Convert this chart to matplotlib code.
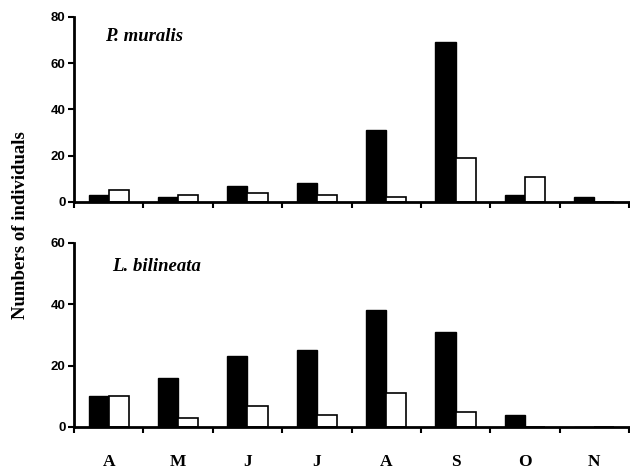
import matplotlib
matplotlib.use("Agg")
import matplotlib.pyplot as plt
import numpy as np

months = ['A', 'M', 'J', 'J', 'A', 'S', 'O', 'N']

# P. muralis
muralis_black = [3, 2, 7, 8, 31, 69, 3, 2]
muralis_white = [5, 3, 4, 3, 2, 19, 11, 0]

# L. bilineata
bilineata_black = [10, 16, 23, 25, 38, 31, 4, 0]
bilineata_white = [10, 3, 7, 4, 11, 5, 0, 0]

serif = 'Liberation Serif'
sans = 'Liberation Sans'

fig = plt.figure(figsize=(6.3, 4.69), dpi=100)
ax1 = fig.add_axes([0.1175, 0.5693, 0.881, 0.3945])
ax2 = fig.add_axes([0.1175, 0.0896, 0.881, 0.3923])

x = np.arange(len(months))
w = 0.29


def draw(ax, black, white, ymax, name, tx, ty):
    ax.bar(x - w / 2, black, w, color='black', edgecolor='black', linewidth=1.0)
    ax.bar(x + w / 2, white, w, color='white', edgecolor='black', linewidth=1.2)
    ax.set_xlim(-0.5, len(months) - 0.5)
    ax.set_ylim(0, ymax)
    ax.set_yticks(np.arange(0, ymax + 1, 20))
    ax.set_xticks(np.arange(-0.5, len(months) + 0.5, 1))
    ax.set_xticklabels([])
    ax.tick_params(axis='x', direction='out', length=4, width=1.5)
    ax.tick_params(axis='y', direction='out', length=4, width=1.5, pad=2)
    for lab in ax.get_yticklabels():
        lab.set_fontfamily(sans)
        lab.set_fontweight('bold')
        lab.set_fontsize(9.5)
    for s in ['top', 'right']:
        ax.spines[s].set_visible(False)
    for s in ['left', 'bottom']:
        ax.spines[s].set_linewidth(2)
    ax.text(tx, ty, name, transform=ax.transAxes, fontfamily=serif,
            fontstyle='italic', fontweight='bold', fontsize=13.5, va='center')


draw(ax1, muralis_black, muralis_white, 80, 'P. muralis', 0.055, 0.895)
draw(ax2, bilineata_black, bilineata_white, 60, 'L. bilineata', 0.068, 0.87)

for i, m in enumerate(months):
    ax2.text(i, -0.19, m, transform=ax2.get_xaxis_transform(), ha='center', va='center',
             fontfamily=serif, fontweight='bold', fontsize=12.5)

fig.text(0.032, 0.52, 'Numbers of individuals', rotation=90, ha='center', va='center',
         fontfamily=serif, fontweight='bold', fontsize=13.5)

fig.savefig('out.png', dpi=100)
